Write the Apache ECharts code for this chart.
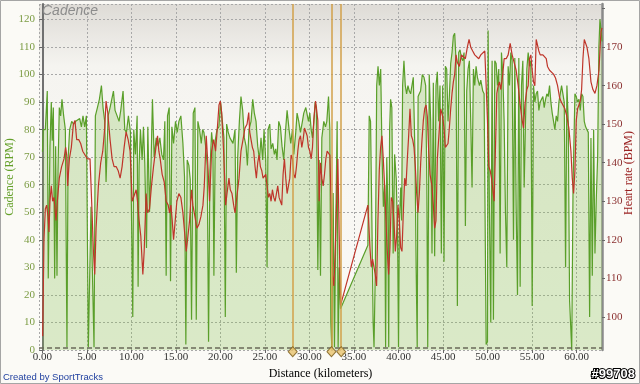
<!DOCTYPE html>
<html>
<head>
<meta charset="utf-8">
<script src="https://cdn.jsdelivr.net/npm/echarts@6.0.0/dist/echarts.min.js"></script>
<style>
html,body{margin:0;padding:0;background:#fbfaf6;}
#c{width:640px;height:384px;}
</style>
</head>
<body>
<div id="c"></div>
<script>
// Distance (km) / cadence (RPM)
const cadencePoints = [
[0.02,72],[0.11,80],[0.34,80],[0.56,94],[0.67,26],[0.86,74],[1.01,90],[1.12,76],[1.24,88],[1.39,26],
[1.50,74],[1.65,27],[1.76,65],[1.91,88],[2.06,85],[2.21,91],[2.40,85],[2.59,80],[2.77,1],[2.89,69],
[3.07,80],[3.30,83],[3.52,82],[3.75,83],[3.97,83],[4.20,84],[4.39,81],[4.57,85],[4.76,81],[4.95,85],
[5.10,85],[5.17,1],[5.47,52],[5.81,1],[5.96,85],[6.19,88],[6.41,91],[6.64,96],[6.82,88],[7.01,83],
[7.16,61],[7.39,85],[7.61,88],[7.80,91],[7.99,94],[8.17,87],[8.40,85],[8.62,83],[8.81,87],[9.07,94],
[9.26,80],[9.45,79],[9.67,85],[9.90,79],[10.16,12],[10.27,80],[10.46,71],[10.65,85],[10.76,23],[10.87,67],
[11.02,80],[11.21,69],[11.36,81],[11.51,68],[11.70,37],[11.85,81],[12.04,50],[12.22,69],[12.37,91],[12.56,70],
[12.79,77],[13.01,74],[13.20,77],[13.42,71],[13.61,69],[13.76,83],[13.91,27],[14.06,85],[14.25,88],[14.40,25],
[14.55,81],[14.74,75],[14.96,83],[15.15,79],[15.34,83],[15.56,85],[15.79,75],[15.97,63],[16.12,2],[16.27,69],
[16.46,67],[16.61,62],[16.76,11],[16.95,86],[17.14,88],[17.29,11],[17.47,83],[17.66,80],[17.85,75],[18.00,80],
[18.15,79],[18.34,74],[18.52,67],[18.67,3],[18.82,65],[19.01,79],[19.16,74],[19.27,27],[19.42,76],[19.61,80],
[19.83,81],[20.02,90],[20.25,82],[20.40,77],[20.55,12],[20.70,82],[20.88,79],[21.07,77],[21.41,75],[21.64,80],
[21.79,28],[21.94,70],[22.13,83],[22.31,92],[22.50,87],[22.69,77],[22.88,74],[23.03,67],[23.21,80],[23.44,83],
[23.63,91],[23.81,86],[24.00,83],[24.19,74],[24.38,69],[24.56,77],[24.75,69],[24.90,80],[25.09,69],[25.24,30],
[25.35,80],[25.54,82],[25.69,73],[25.88,75],[26.06,71],[26.21,73],[26.36,69],[26.55,83],[26.74,81],[26.92,74],
[27.11,69],[27.30,79],[27.49,87],[27.71,80],[27.90,75],[28.09,80],[28.24,71],[28.46,79],[28.61,86],[28.80,83],
[28.99,79],[29.21,83],[29.36,86],[29.59,88],[29.74,88],[29.89,83],[30.04,86],[30.19,80],[30.34,77],[30.49,83],
[30.64,90],[30.79,88],[30.94,29],[31.09,69],[31.24,27],[31.39,77],[31.61,83],[31.80,81],[31.95,83],[32.14,92],
[32.29,80],[32.40,10],[32.51,1],[32.66,57],[32.81,1],[32.96,47],[33.11,83],[33.22,1],[33.35,30],[33.49,15],
[36.56,38],[36.71,85],[36.86,83],[37.01,47],[37.15,10],[37.25,1],[37.40,30],[37.55,96],[37.70,103],[37.85,96],
[38.00,102],[38.15,71],[38.30,52],[38.45,60],[38.55,1],[38.68,70],[38.80,52],[38.90,1],[39.00,80],[39.11,91],
[39.25,88],[39.40,35],[39.56,71],[39.75,62],[39.90,40],[40.00,1],[40.10,47],[40.25,59],[40.35,47],[40.46,96],
[40.61,105],[40.76,96],[40.91,93],[41.06,96],[41.21,94],[41.36,93],[41.51,96],[41.66,99],[41.85,71],[41.98,30],
[42.10,1],[42.20,92],[42.33,93],[42.48,94],[42.67,100],[42.86,99],[43.05,96],[43.18,60],[43.28,1],[43.45,100],
[43.61,83],[43.76,35],[43.91,97],[44.06,34],[44.21,96],[44.36,101],[44.51,83],[44.66,96],[44.81,35],[44.96,96],
[45.11,32],[45.26,103],[45.41,102],[45.56,83],[45.71,92],[45.86,104],[46.01,108],[46.16,114],[46.31,115],[46.46,105],
[46.61,16],[46.76,108],[46.91,109],[47.06,106],[47.21,105],[47.36,108],[47.51,45],[47.66,94],[47.81,102],[47.96,105],
[48.11,83],[48.26,59],[48.41,102],[48.56,96],[48.71,103],[48.86,99],[49.09,96],[49.24,98],[49.46,94],[49.61,93],
[49.84,2],[49.99,3],[50.06,116],[50.21,50],[50.36,10],[50.51,105],[50.66,11],[50.81,105],[50.96,104],[51.11,96],
[51.26,102],[51.41,35],[51.56,108],[51.71,100],[51.86,83],[52.01,50],[52.16,30],[52.31,103],[52.46,96],[52.61,108],
[52.76,105],[52.91,40],[53.06,106],[53.21,52],[53.36,20],[53.51,106],[53.66,23],[53.81,96],[53.96,105],[54.11,59],
[54.26,83],[54.41,102],[54.56,108],[54.71,103],[54.86,105],[55.01,16],[55.16,96],[55.31,90],[55.46,93],[55.61,94],
[55.76,87],[55.91,90],[56.06,91],[56.21,92],[56.36,88],[56.51,91],[56.66,93],[56.81,92],[56.96,96],[57.11,90],
[57.26,86],[57.41,83],[57.56,80],[57.71,85],[57.86,83],[58.01,90],[58.16,93],[58.31,96],[58.46,93],[58.61,90],
[58.76,30],[58.91,96],[59.06,83],[59.21,18],[59.33,9],[59.45,0],[59.60,60],[59.81,93],[59.96,92],[60.11,90],
[60.26,91],[60.41,87],[60.56,93],[60.71,92],[60.86,83],[61.01,81],[61.16,80],[61.31,79],[61.46,12],[61.61,77],
[61.76,27],[61.91,80],[62.06,35],[62.21,55],[62.36,70],[62.50,110],[62.62,120],[62.75,116],[62.85,112]
];
// Distance (km) / heart rate (BPM)
const heartRatePoints = [
[0.04,95],[0.19,120],[0.34,128],[0.49,129],[0.64,126],[0.75,122],[0.86,130],[1.01,134],[1.16,130],[1.31,131],
[1.54,125],[1.69,130],[1.91,136],[2.17,139],[2.44,141],[2.62,144],[2.74,142],[2.85,134],[3.04,141],[3.26,144],
[3.49,150],[3.67,151],[3.86,146],[4.09,146],[4.31,145],[4.54,143],[4.80,142],[5.06,141],[5.36,141],[5.59,127],
[5.74,117],[5.89,111],[6.04,123],[6.30,134],[6.56,140],[6.79,143],[7.01,149],[7.16,156],[7.35,153],[7.61,146],
[7.84,141],[8.06,139],[8.29,139],[8.51,138],[8.74,136],[8.96,139],[9.19,144],[9.41,148],[9.64,146],[9.86,143],
[10.09,130],[10.31,130],[10.54,133],[10.69,130],[10.87,125],[11.06,121],[11.29,111],[11.44,117],[11.66,132],[11.81,127],
[12.04,128],[12.26,134],[12.49,139],[12.71,143],[12.94,147],[13.09,143],[13.24,141],[13.46,137],[13.69,135],[13.91,130],
[14.14,129],[14.29,127],[14.44,129],[14.59,125],[14.74,120],[14.89,124],[15.11,130],[15.34,132],[15.56,131],[15.79,127],
[15.94,123],[16.16,117],[16.31,120],[16.54,125],[16.76,133],[16.91,129],[17.14,126],[17.36,123],[17.59,124],[17.81,126],
[18.04,129],[18.19,134],[18.41,147],[18.56,141],[18.78,130],[19.01,143],[19.24,146],[19.46,143],[19.69,150],[19.84,155],
[19.99,156],[20.14,153],[20.36,143],[20.59,129],[20.74,132],[20.96,136],[21.11,133],[21.30,132],[21.49,129],[21.64,127],
[21.79,130],[21.94,130],[22.09,136],[22.31,143],[22.54,146],[22.76,149],[22.99,150],[23.18,153],[23.29,148],[23.44,146],
[23.59,144],[23.74,143],[23.89,139],[24.04,136],[24.19,140],[24.34,142],[24.49,139],[24.64,138],[24.79,136],[24.94,136],
[25.09,137],[25.24,134],[25.39,131],[25.54,132],[25.69,130],[25.84,133],[25.99,131],[26.14,130],[26.29,132],[26.44,134],
[26.59,131],[26.74,130],[26.89,129],[27.04,137],[27.19,141],[27.34,136],[27.49,132],[27.64,134],[27.79,136],[27.94,142],
[28.09,141],[28.24,137],[28.39,136],[28.54,139],[28.69,143],[28.84,146],[28.99,147],[29.14,144],[29.29,146],[29.44,149],
[29.59,149],[29.74,147],[29.89,144],[30.04,143],[30.19,141],[30.34,144],[30.49,151],[30.68,156],[30.79,156],[30.94,151],
[31.09,130],[31.24,140],[31.39,136],[31.54,134],[31.69,137],[31.84,141],[31.99,143],[32.14,143],[32.29,142],[32.44,129],
[32.59,111],[32.74,108],[32.89,117],[33.04,129],[33.19,141],[33.34,121],[33.49,103],[36.56,129],[36.79,118],[36.94,113],
[37.09,115],[37.24,113],[37.39,111],[37.54,108],[37.69,125],[37.84,138],[37.99,144],[38.14,147],[38.29,141],[38.44,134],
[38.59,125],[38.74,117],[38.89,111],[39.04,118],[39.19,131],[39.34,130],[39.49,125],[39.64,117],[39.79,121],[39.94,129],
[40.09,125],[40.24,118],[40.39,117],[40.54,127],[40.69,136],[40.84,134],[40.99,141],[41.14,147],[41.29,154],[41.44,147],
[41.59,146],[41.74,144],[41.89,139],[42.04,132],[42.19,127],[42.34,132],[42.49,140],[42.64,146],[42.79,151],[42.94,154],
[43.09,155],[43.24,152],[43.39,143],[43.54,137],[43.76,134],[43.91,129],[44.06,123],[44.21,125],[44.36,141],[44.59,149],
[44.74,154],[44.96,152],[45.11,149],[45.26,144],[45.41,144],[45.56,145],[45.71,149],[45.86,154],[46.01,158],[46.16,161],
[46.31,163],[46.46,168],[46.61,166],[46.83,165],[47.06,168],[47.28,168],[47.51,167],[47.73,170],[47.92,172],[48.11,170],
[48.33,169],[48.56,168],[48.78,168],[49.01,167],[49.24,168],[49.46,168],[49.69,169],[49.84,169],[49.99,151],[50.14,139],
[50.29,138],[50.44,136],[50.59,133],[50.74,130],[50.89,144],[51.04,158],[51.19,160],[51.34,161],[51.49,159],[51.71,163],
[51.86,167],[52.09,167],[52.31,168],[52.54,171],[52.76,168],[52.99,166],[53.21,164],[53.44,160],[53.66,155],[53.89,151],
[54.04,149],[54.19,155],[54.41,159],[54.56,160],[54.71,167],[54.86,168],[55.01,164],[55.16,161],[55.31,160],[55.46,172],
[55.61,172],[55.76,169],[55.91,168],[56.06,168],[56.21,168],[56.36,168],[56.59,167],[56.73,165],[56.96,164],[57.18,164],
[57.41,163],[57.63,162],[57.86,160],[58.08,157],[58.23,156],[58.46,155],[58.68,154],[58.91,152],[59.13,149],[59.36,143],
[59.51,136],[59.66,132],[59.81,138],[59.96,151],[60.11,154],[60.26,155],[60.41,156],[60.56,159],[60.71,167],[60.86,172],
[61.01,172],[61.16,170],[61.38,167],[61.61,161],[61.83,159],[62.06,158],[62.28,160],[62.51,164],[62.73,174],[62.85,175]
];
// Lap markers (km)
const lapKm = [28.12, 32.47, 33.57];
// Axis ranges
const distanceRange = [-0.37, 62.85];
const cadenceRange = [0, 125.6];
const heartRange = [91.4, 181.2];
const zeroLineValue = 0.7;

const serif = "'Liberation Serif', 'DejaVu Serif', serif";
const chart = echarts.init(document.getElementById('c'), null, {renderer: 'canvas'});
const bg = new echarts.graphic.LinearGradient(0, 0, 0, 1, [
  {offset: 0, color: '#dedbd6'},
  {offset: 0.18, color: '#f5f4f0'},
  {offset: 1, color: '#fbfaf6'}
]);
chart.setOption({
  animation: false,
  backgroundColor: '#fbfaf6',
  title: {
    text: 'Cadence', left: 42, top: 4, padding: 0,
    textStyle: {fontFamily: "'Liberation Sans', Arial, sans-serif", fontStyle: 'italic', fontWeight: 'normal', fontSize: 14, color: '#8c8c8c'}
  },
  grid: {left: 39, right: 38, top: 4, bottom: 34, containLabel: false, outerBoundsMode: 'none', show: true, backgroundColor: bg, borderWidth: 0},
  xAxis: {
    type: 'value', min: distanceRange[0], max: distanceRange[1], splitNumber: 13,
    name: 'Distance (kilometers)', nameLocation: 'middle', nameGap: 17,
    nameTextStyle: {fontFamily: serif, fontSize: 12, color: '#000'},
    axisLine: {show: false},
    axisTick: {show: true, length: 3, lineStyle: {color: '#666'}},
    axisLabel: {
      showMinLabel: false, showMaxLabel: false, margin: 2,
      fontFamily: serif, fontSize: 11, color: '#333',
      formatter: v => Math.abs(v / 5 - Math.round(v / 5)) < 1e-6 ? v.toFixed(2) : ''
    },
    splitLine: {show: true, lineStyle: {color: '#a8a8a8', type: [2, 2], width: 1}}
  },
  yAxis: [
    {
      type: 'value', min: cadenceRange[0], max: cadenceRange[1], interval: 10,
      axisLine: {show: true, lineStyle: {color: '#707070', width: 2}},
      axisTick: {show: true, length: 3, lineStyle: {color: '#666'}},
      axisLabel: {showMaxLabel: false, margin: 4, fontFamily: serif, fontSize: 11, color: '#7c9c44',
        formatter: v => (v % 10 === 0 ? String(v) : '')},
      splitLine: {show: true, lineStyle: {color: '#a8a8a8', type: [2, 2], width: 1}}
    },
    {
      type: 'value', min: heartRange[0], max: heartRange[1], splitNumber: 9, position: 'right',
      axisLine: {show: true, lineStyle: {color: '#8a8a8a', width: 2.5}},
      axisTick: {show: true, length: 3, lineStyle: {color: '#666'}},
      axisLabel: {showMinLabel: false, showMaxLabel: false, margin: 4, fontFamily: serif, fontSize: 11, color: '#8b3030',
        formatter: v => (Math.abs(v % 10) < 1e-6 && v < 175 ? String(v) : '')},
      splitLine: {show: false}
    }
  ],
  series: [
    {
      name: 'Cadence', type: 'line', yAxisIndex: 0, data: cadencePoints,
      showSymbol: false, symbol: 'none', z: 2,
      lineStyle: {color: '#5a9f2a', width: 1.2},
      areaStyle: {color: 'rgba(140,195,90,0.42)'},
      markLine: {
        silent: true, symbol: 'none', label: {show: false},
        lineStyle: {color: '#6a6a5a', type: [5, 3], width: 1.5},
        data: [{yAxis: zeroLineValue}]
      }
    },
    {
      name: 'Heart rate', type: 'line', yAxisIndex: 1, data: heartRatePoints,
      showSymbol: false, symbol: 'none', z: 3,
      lineStyle: {color: '#bf352a', width: 1.2}
    },
    {
      name: 'Laps', type: 'scatter', yAxisIndex: 0, clip: false, z: 5,
      data: lapKm.map(k => [k, -0.6]),
      symbol: 'diamond', symbolSize: [9, 10],
      itemStyle: {color: '#e8c36e', borderColor: '#7a5c18', borderWidth: 1},
      markLine: {
        silent: true, symbol: 'none', label: {show: false},
        lineStyle: {color: '#d2a04a', type: 'solid', width: 1.5},
        data: lapKm.map(k => ({xAxis: k}))
      }
    }
  ],
  graphic: [
    {type: 'rect', shape: {x: 0.5, y: 0.5, width: 639, height: 383}, style: {fill: 'none', stroke: '#a5a5a5', lineWidth: 1}, silent: true},
    {type: 'text', x: 10, y: 177, rotation: Math.PI / 2, style: {text: 'Cadence (RPM)', align: 'center', verticalAlign: 'middle', fontFamily: serif, fontSize: 12, fill: '#64a02a'}},
    {type: 'text', x: 629, y: 173, rotation: Math.PI / 2, style: {text: 'Heart rate (BPM)', align: 'center', verticalAlign: 'middle', fontFamily: serif, fontSize: 12, fill: '#9a2222'}},
    {type: 'text', left: 3, top: 372, style: {text: 'Created by SportTracks', fontFamily: "'Liberation Sans', Arial, sans-serif", fontSize: 9.5, fill: '#1f3f9f'}},
    {type: 'text', right: 4, top: 367, style: {text: '#99708', fontFamily: "'Liberation Sans', Arial, sans-serif", fontWeight: 'bold', fontSize: 13, fill: '#ffffff', stroke: '#000', lineWidth: 2}}
  ]
});
</script>
</body>
</html>
